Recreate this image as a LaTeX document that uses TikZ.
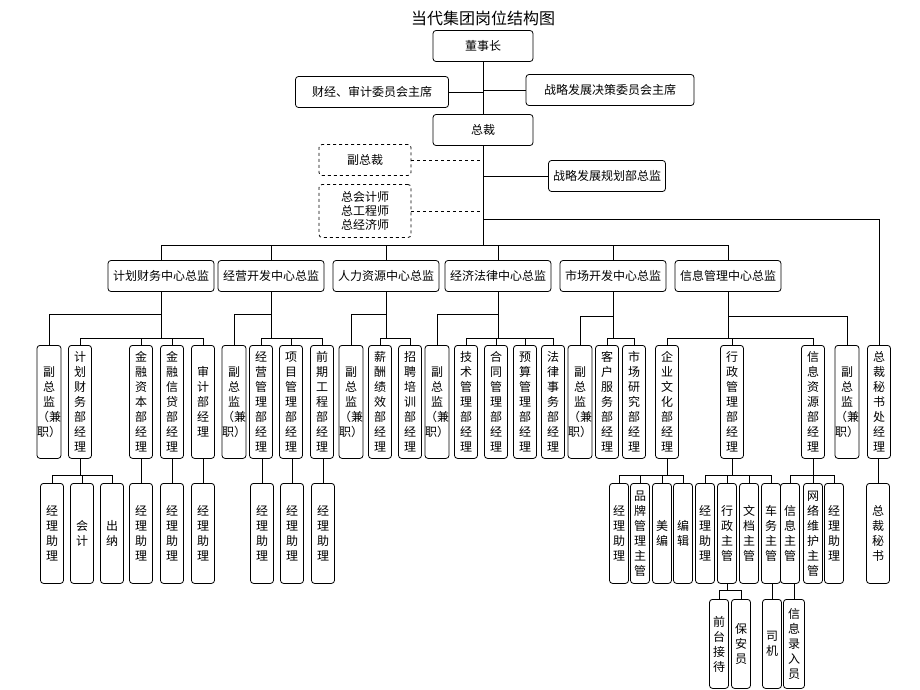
\documentclass[tikz,border=0pt]{standalone}
\usepackage{fontspec}
\setmainfont{Noto Sans CJK SC}
\begin{document}
\begin{tikzpicture}[x=1pt,y=-1pt,line width=0.8pt,
  hbox/.style={draw,rounded corners=3,minimum height=31,inner sep=1,font=\fontsize{12}{14}\selectfont},
  vbox/.style={draw,rounded corners=3,minimum width=23,inner sep=0,anchor=north,align=center,font=\fontsize{12}{15}\selectfont},
  lv3/.style={vbox,minimum height=113},
  lv4/.style={vbox,minimum height=100},
  lv5/.style={vbox,minimum height=89},
  nr/.style={minimum width=19}]
\useasboundingbox (0,0) rectangle (920,690);
\node[font=\fontsize{16}{18}\selectfont] (title) at (483,18) {当代集团岗位结构图};
\node[hbox,minimum width=100] (dsz) at (483,46) {董事长};
\node[hbox,minimum width=153] (cj) at (372,92) {财经、审计委员会主席};
\node[hbox,minimum width=168] (zl) at (610,90) {战略发展决策委员会主席};
\node[hbox,minimum width=100] (zc) at (483,130) {总裁};
\node[hbox,dashed,minimum width=92] (fzc) at (365,160) {副总裁};
\node[hbox,dashed,minimum width=92,minimum height=53,align=center] (zkj) at (365,211) {总会计师\\总工程师\\总经济师};
\node[hbox,minimum width=117] (zlgh) at (607,176) {战略发展规划部总监};
% centers
\node[hbox,minimum width=106] (c1) at (161,276) {计划财务中心总监};
\node[hbox,minimum width=106] (c2) at (271,276) {经营开发中心总监};
\node[hbox,minimum width=106] (c3) at (386,276) {人力资源中心总监};
\node[hbox,minimum width=106] (c4) at (498,276) {经济法律中心总监};
\node[hbox,minimum width=106] (c5) at (613,276) {市场开发中心总监};
\node[hbox,minimum width=106] (c6) at (728,276) {信息管理中心总监};
\path (0,245) coordinate (yb) (0,219) coordinate (ys) (0,314) coordinate (ya) (0,338) coordinate (yc)
      (0,316) coordinate (ya2) (0,475) coordinate (yd) (0,590) coordinate (ye);
% level 3
\node[lv3] (v1) at (49,345) {副\\总\\监\\（兼\\职）};
\node[lv3] (m11) at (80,345) {计\\划\\财\\务\\部\\经\\理};
\node[lv3] (m12) at (141,345) {金\\融\\资\\本\\部\\经\\理};
\node[lv3] (m13) at (172,345) {金\\融\\信\\贷\\部\\经\\理};
\node[lv3] (m14) at (203,345) {审\\计\\部\\经\\理};
\node[lv3] (v2) at (234,345) {副\\总\\监\\（兼\\职）};
\node[lv3] (m21) at (261,345) {经\\营\\管\\理\\部\\经\\理};
\node[lv3] (m22) at (291,345) {项\\目\\管\\理\\部\\经\\理};
\node[lv3] (m23) at (322,345) {前\\期\\工\\程\\部\\经\\理};
\node[lv3] (v3) at (351,345) {副\\总\\监\\（兼\\职）};
\node[lv3] (m31) at (380,345) {薪\\酬\\绩\\效\\部\\经\\理};
\node[lv3] (m32) at (410,345) {招\\聘\\培\\训\\部\\经\\理};
\node[lv3] (v4) at (437,345) {副\\总\\监\\（兼\\职）};
\node[lv3] (m41) at (466,345) {技\\术\\管\\理\\部\\经\\理};
\node[lv3] (m42) at (496,345) {合\\同\\管\\理\\部\\经\\理};
\node[lv3] (m43) at (525,345) {预\\算\\管\\理\\部\\经\\理};
\node[lv3] (m44) at (553,345) {法\\律\\事\\务\\部\\经\\理};
\node[lv3] (v5) at (580,345) {副\\总\\监\\（兼\\职）};
\node[lv3] (m51) at (607,345) {客\\户\\服\\务\\部\\经\\理};
\node[lv3] (m52) at (634,345) {市\\场\\研\\究\\部\\经\\理};
\node[lv3] (m61) at (667,345) {企\\业\\文\\化\\部\\经\\理};
\node[lv3] (m62) at (732,345) {行\\政\\管\\理\\部\\经\\理};
\node[lv3] (m63) at (813,345) {信\\息\\资\\源\\部\\经\\理};
\node[lv3] (v6) at (847,345) {副\\总\\监\\（兼\\职）};
\node[lv3] (ms) at (879,345) {总\\裁\\秘\\书\\处\\经\\理};
% level 4
\node[lv4] (a1) at (52,483) {经\\理\\助\\理};
\node[lv4] (a2) at (82,483) {会\\计};
\node[lv4] (a3) at (112,483) {出\\纳};
\node[lv4] (a4) at (141,483) {经\\理\\助\\理};
\node[lv4] (a5) at (172,483) {经\\理\\助\\理};
\node[lv4] (a6) at (203,483) {经\\理\\助\\理};
\node[lv4] (b1) at (262,483) {经\\理\\助\\理};
\node[lv4] (b2) at (292,483) {经\\理\\助\\理};
\node[lv4] (b3) at (323,483) {经\\理\\助\\理};
\node[lv4,nr] (e1) at (619,483) {经\\理\\助\\理};
\node[lv4,nr] (e2) at (640,483) {品\\牌\\管\\理\\主\\管};
\node[lv4,nr] (e3) at (662,483) {美\\编};
\node[lv4,nr] (e4) at (683,483) {编\\辑};
\node[lv4,nr] (f1) at (705,483) {经\\理\\助\\理};
\node[lv4,nr] (f2) at (727,483) {行\\政\\主\\管};
\node[lv4,nr] (f3) at (749,483) {文\\档\\主\\管};
\node[lv4,nr] (f4) at (771,483) {车\\务\\主\\管};
\node[lv4,nr] (g1) at (790,483) {信\\息\\主\\管};
\node[lv4,nr] (g2) at (813,483) {网\\络\\维\\护\\主\\管};
\node[lv4,nr] (g3) at (834,483) {经\\理\\助\\理};
\node[lv4] (s1) at (878,483) {总\\裁\\秘\\书};
% level 5
\node[lv5,nr] (h1) at (719,599) {前\\台\\接\\待};
\node[lv5,nr] (h2) at (741,599) {保\\安\\员};
\node[lv5,nr] (h3) at (772,599) {司\\机};
\node[lv5,minimum width=21] (h4) at (794,599) {信\\息\\录\\入\\员};
% top connectors
\draw (dsz.south) -- (zc.north);
\draw (cj.east) -- (cj.east -| dsz.south);
\draw (zl.west) -- (zl.west -| dsz.south);
\draw (zc.south) -- (zc.south |- yb);
\draw[dashed] (fzc.east) -- (fzc.east -| zc.south);
\draw[dashed] (zkj.east) -- (zkj.east -| zc.south);
\draw (zlgh.west) -- (zlgh.west -| zc.south);
\draw (zc.south |- ys) -| (ms.north);
\draw (c1.north |- yb) -- (c6.north |- yb);
\foreach \c in {c1,c2,c3,c4,c5,c6} \draw (\c.north) -- (\c.north |- yb);
% center groups
\draw (c1.south) -- (c1.south |- yc);
\draw (v1.north) |- (c1.south |- ya);
\draw (m11.north) |- (m14.north |- yc) -- (m14.north);
\foreach \m in {m12,m13} \draw (\m.north) -- (\m.north |- yc);
\draw (c2.south) -- (c2.south |- yc);
\draw (v2.north) |- (c2.south |- ya);
\draw (m21.north) |- (m23.north |- yc) -- (m23.north);
\draw (m22.north) -- (m22.north |- yc);
\draw (c3.south) -- (c3.south |- yc);
\draw (v3.north) |- (c3.south |- ya);
\draw (m31.north) |- (m32.north |- yc) -- (m32.north);
\draw (c4.south) -- (c4.south |- yc);
\draw (v4.north) |- (c4.south |- ya);
\draw (m41.north) |- (m44.north |- yc) -- (m44.north);
\foreach \m in {m42,m43} \draw (\m.north) -- (\m.north |- yc);
\draw (c5.south) -- (c5.south |- yc);
\draw (v5.north) |- (c5.south |- ya2);
\draw (m51.north) |- (m52.north |- yc) -- (m52.north);
\draw (c6.south) -- (c6.south |- yc);
\draw (v6.north) |- (c6.south |- ya2);
\draw (m61.north) |- (m63.north |- yc) -- (m63.north);
\draw (m62.north) -- (m62.north |- yc);
% level 4 connectors
\draw (m11.south) -- (m11.south |- yd);
\draw (a1.north) |- (a3.north |- yd) -- (a3.north);
\draw (a2.north) -- (a2.north |- yd);
\draw (m12.south) -- (a4.north);
\draw (m13.south) -- (a5.north);
\draw (m14.south) -- (a6.north);
\draw (m21.south -| b1.north) -- (b1.north);
\draw (m22.south -| b2.north) -- (b2.north);
\draw (m23.south -| b3.north) -- (b3.north);
\draw (m61.south) -- (m61.south |- yd);
\draw (e1.north) |- (e4.north |- yd) -- (e4.north);
\foreach \m in {e2,e3} \draw (\m.north) -- (\m.north |- yd);
\draw (m62.south) -- (m62.south |- yd);
\draw (f1.north) |- (f4.north |- yd) -- (f4.north);
\foreach \m in {f2,f3} \draw (\m.north) -- (\m.north |- yd);
\draw (m63.south) -- (m63.south |- yd);
\draw (g1.north) |- (g3.north |- yd) -- (g3.north);
\draw (g2.north) -- (g2.north |- yd);
\draw (ms.south -| s1.north) -- (s1.north);
% level 5
\draw (f2.south) -- (f2.south |- ye);
\draw (h1.north) |- (h2.north |- ye) -- (h2.north);
\draw (f4.south -| h3.north) -- (h3.north);
\draw (g1.south -| h4.north) -- (h4.north);
\end{tikzpicture}
\end{document}
